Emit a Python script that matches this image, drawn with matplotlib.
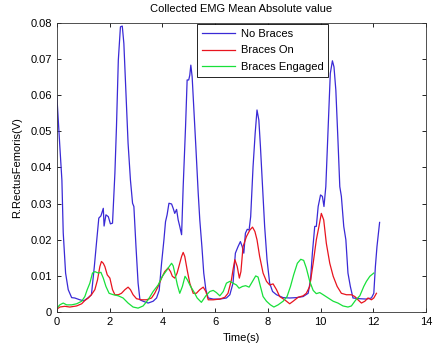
import numpy as np
import matplotlib
matplotlib.use("Agg")
import matplotlib.pyplot as plt
from matplotlib.ticker import FuncFormatter

plt.rcParams['font.family'] = ['Liberation Sans', 'DejaVu Sans']

# No Braces (blue)
t_none = [0, 0.11, 0.19, 0.24, 0.33, 0.43, 0.56, 0.68, 0.87, 1.02, 1.19, 1.31, 1.42, 1.5,
          1.59, 1.67, 1.76, 1.79, 1.86, 1.95, 2.03, 2.11, 2.2, 2.26, 2.33, 2.41, 2.48, 2.54,
          2.62, 2.7, 2.79, 2.87, 2.92, 3.0, 3.08, 3.15, 3.27, 3.46, 3.65, 3.78, 3.88, 3.97,
          4.06, 4.12, 4.18, 4.25, 4.35, 4.41, 4.47, 4.54, 4.6, 4.66, 4.73, 4.79, 4.88, 4.94,
          5.0, 5.04, 5.08, 5.13, 5.19, 5.27, 5.36, 5.42, 5.5, 5.57, 5.65, 5.74, 5.93, 6.18,
          6.43, 6.56, 6.68, 6.77, 6.87, 6.96, 7.03, 7.09, 7.15, 7.22, 7.29, 7.35, 7.44, 7.52,
          7.59, 7.66, 7.72, 7.8, 7.88, 7.97, 8.07, 8.18, 8.33, 8.58, 8.83, 9.09, 9.34, 9.53,
          9.62, 9.69, 9.78, 9.84, 9.91, 10.0, 10.07, 10.13, 10.2, 10.29, 10.37, 10.45, 10.51,
          10.58, 10.66, 10.73, 10.79, 10.88, 10.96, 11.04, 11.13, 11.23, 11.49, 11.74, 11.93,
          12.02, 12.08, 12.14, 12.24]
v_none = [0.0596, 0.046, 0.0365, 0.022, 0.0108, 0.0062, 0.004, 0.0039, 0.0034, 0.0031, 0.004,
          0.0048, 0.0126, 0.019, 0.026, 0.0266, 0.0287, 0.0238, 0.0269, 0.0264, 0.0244, 0.0246,
          0.0384, 0.0513, 0.0697, 0.0789, 0.0791, 0.0743, 0.0605, 0.0467, 0.0365, 0.0301,
          0.0292, 0.0181, 0.008, 0.0034, 0.003, 0.0025, 0.003, 0.0039, 0.006, 0.0135, 0.020,
          0.025, 0.0269, 0.0301, 0.0299, 0.0287, 0.0273, 0.0284, 0.0255, 0.0237, 0.0214,
          0.0347, 0.0513, 0.0642, 0.0642, 0.0655, 0.0683, 0.0651, 0.0568, 0.0458, 0.0329,
          0.0255, 0.0181, 0.0108, 0.0062, 0.0039, 0.0036, 0.0036, 0.0039, 0.0048, 0.008,
          0.0163, 0.0181, 0.0195, 0.0181, 0.0163, 0.0218, 0.0229, 0.0227, 0.0264, 0.0402,
          0.0494, 0.0559, 0.0531, 0.0458, 0.0347, 0.0237, 0.0145, 0.008, 0.0057, 0.0048,
          0.004, 0.0039, 0.004, 0.0043, 0.0052, 0.0089, 0.0163, 0.0237, 0.0237, 0.0292,
          0.0324, 0.032, 0.0292, 0.0347, 0.0513, 0.066, 0.0695, 0.0678, 0.0614, 0.0476,
          0.0347, 0.032, 0.0237, 0.020, 0.0108, 0.0071, 0.0039, 0.0037, 0.0036, 0.0039,
          0.0052, 0.0126, 0.0181, 0.0248]

# Braces On (red)
t_on = [0, 0.11, 0.3, 0.49, 0.75, 0.94, 1.06, 1.19, 1.31, 1.44, 1.54, 1.63, 1.69, 1.76, 1.82,
        1.91, 2.01, 2.11, 2.2, 2.33, 2.45, 2.58, 2.7, 2.79, 2.89, 3.02, 3.21, 3.4, 3.59, 3.71,
        3.84, 3.97, 4.09, 4.22, 4.31, 4.38, 4.47, 4.56, 4.66, 4.73, 4.79, 4.85, 4.94, 5.04,
        5.17, 5.29, 5.42, 5.55, 5.65, 5.74, 5.93, 6.18, 6.37, 6.49, 6.62, 6.68, 6.75, 6.84,
        6.92, 6.98, 7.06, 7.19, 7.32, 7.42, 7.51, 7.59, 7.69, 7.82, 7.95, 8.07, 8.2, 8.33,
        8.45, 8.64, 8.83, 8.96, 9.15, 9.34, 9.46, 9.59, 9.72, 9.84, 9.94, 10.03, 10.12, 10.22,
        10.35, 10.48, 10.63, 10.79, 10.98, 11.17, 11.3, 11.42, 11.55, 11.68, 11.8, 11.93,
        12.02, 12.12]
v_on = [0.0008, 0.0014, 0.0016, 0.0014, 0.0017, 0.0023, 0.0032, 0.0039, 0.0048, 0.0062, 0.0089,
        0.0126, 0.014, 0.0135, 0.0126, 0.0103, 0.0094, 0.0062, 0.0048, 0.0048, 0.0052, 0.0062,
        0.0069, 0.0062, 0.0048, 0.0037, 0.0034, 0.0034, 0.0039, 0.0052, 0.0071, 0.0094, 0.0112,
        0.0122, 0.0112, 0.0099, 0.0094, 0.0108, 0.0135, 0.0154, 0.0165, 0.0154, 0.0117, 0.008,
        0.0052, 0.0052, 0.0062, 0.0069, 0.0057, 0.0034, 0.0034, 0.0036, 0.0041, 0.0052, 0.0089,
        0.0117, 0.0145, 0.0126, 0.0094, 0.0112, 0.0181, 0.0209, 0.0227, 0.0235, 0.0223, 0.020,
        0.0154, 0.0108, 0.0085, 0.0075, 0.0078, 0.0062, 0.0043, 0.0034, 0.0023, 0.003, 0.0041,
        0.0045, 0.0052, 0.0071, 0.0135, 0.020, 0.0237, 0.0273, 0.0255, 0.019, 0.0135, 0.0099,
        0.0071, 0.0052, 0.0048, 0.0048, 0.0043, 0.0034, 0.0025, 0.003, 0.0039, 0.0034, 0.0039,
        0.0052]

# Braces Engaged (green)
t_eng = [0, 0.11, 0.24, 0.37, 0.56, 0.75, 0.94, 1.06, 1.15, 1.25, 1.35, 1.44, 1.57, 1.67, 1.76,
         1.86, 1.98, 2.14, 2.33, 2.51, 2.7, 2.89, 3.08, 3.27, 3.46, 3.65, 3.84, 4.0, 4.16, 4.26,
         4.35, 4.41, 4.5, 4.57, 4.66, 4.76, 4.86, 4.95, 5.07, 5.19, 5.32, 5.48, 5.65, 5.8, 5.93,
         6.05, 6.18, 6.31, 6.43, 6.56, 6.68, 6.81, 6.91, 7.04, 7.16, 7.29, 7.42, 7.54, 7.63,
         7.72, 7.82, 7.95, 8.1, 8.23, 8.39, 8.58, 8.73, 8.86, 8.98, 9.12, 9.25, 9.36, 9.46,
         9.59, 9.72, 9.84, 9.97, 10.1, 10.29, 10.48, 10.66, 10.85, 11.04, 11.17, 11.34, 11.49,
         11.64, 11.74, 11.87, 12.02]
v_eng = [0.0011, 0.002, 0.0025, 0.002, 0.002, 0.0023, 0.003, 0.0043, 0.0062, 0.008, 0.0108,
         0.0112, 0.0108, 0.011, 0.0094, 0.0071, 0.0052, 0.0048, 0.0045, 0.0039, 0.0025, 0.0014,
         0.0011, 0.0017, 0.0034, 0.0057, 0.0075, 0.0099, 0.0115, 0.0126, 0.0135, 0.0128, 0.0099,
         0.0075, 0.0052, 0.0071, 0.0099, 0.0089, 0.0071, 0.0057, 0.0039, 0.0027, 0.0045, 0.0057,
         0.006, 0.0054, 0.0045, 0.0057, 0.008, 0.0085, 0.008, 0.0075, 0.0066, 0.0071, 0.0073,
         0.0069, 0.0085, 0.010, 0.0097, 0.0071, 0.0043, 0.003, 0.002, 0.0014, 0.002, 0.003,
         0.0043, 0.0071, 0.0103, 0.0135, 0.0146, 0.0143, 0.0122, 0.0085, 0.006, 0.0051, 0.0054,
         0.0048, 0.0039, 0.003, 0.0025, 0.0017, 0.0014, 0.0017, 0.0034, 0.0045, 0.0071, 0.0085,
         0.0099, 0.0108]

fig = plt.figure(figsize=(4.41, 3.46), dpi=100)
ax = fig.add_axes([0.129, 0.098, 0.837, 0.836])

ax.plot(t_none, v_none, color='#3a2ad6', lw=0.9, label='No Braces')
ax.plot(t_on, v_on, color='#e8141e', lw=0.9, label='Braces On')
ax.plot(t_eng, v_eng, color='#18e03a', lw=0.9, label='Braces Engaged')

ax.set_xlim(0, 14)
ax.set_ylim(0, 0.08)
ax.set_xticks(np.arange(0, 15, 2))
ax.set_yticks(np.arange(0, 0.081, 0.01))
ax.yaxis.set_major_formatter(FuncFormatter(lambda v, p: '%g' % round(v, 3)))
ax.tick_params(direction='in', top=True, right=True, labelsize=8, length=3, width=0.6)
for s in ax.spines.values():
    s.set_linewidth(0.6)
    s.set_color('#333333')

ax.set_title('Collected EMG Mean Absolute value', fontsize=8, pad=8)
ax.set_xlabel('Time(s)', fontsize=8, labelpad=4)
ax.set_ylabel('R.RectusFemoris(V)', fontsize=8, labelpad=6)

leg = ax.legend(loc='upper left', bbox_to_anchor=(0.379, 0.995), fontsize=8,
                handlelength=3.0, fancybox=False, framealpha=1, borderpad=0.45,
                labelspacing=0.55, handletextpad=0.5, borderaxespad=0)
leg.get_frame().set_edgecolor('black')
leg.get_frame().set_linewidth(0.6)

fig.savefig('out.png', dpi=100)
